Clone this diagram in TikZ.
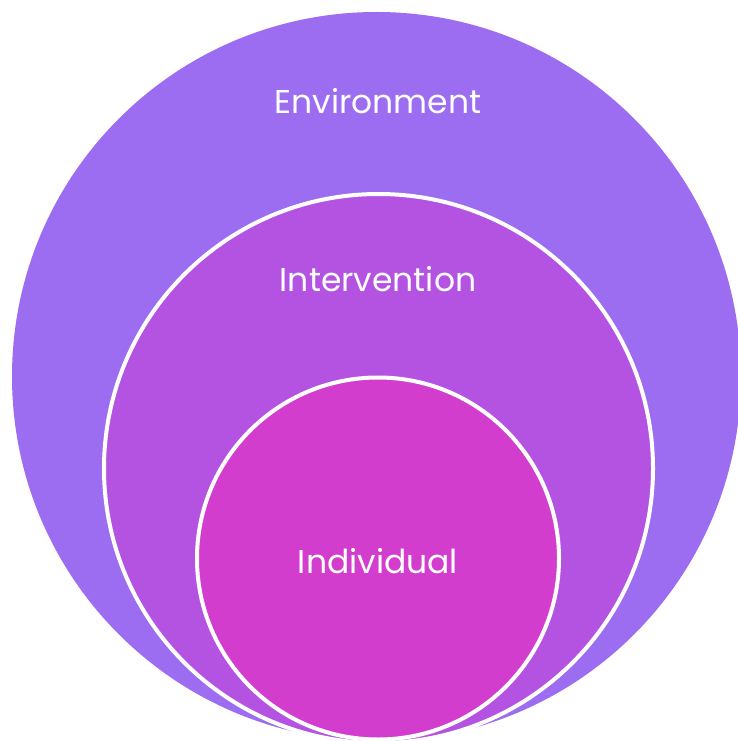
\documentclass[tikz,border=0pt]{standalone}
\usepackage{fontspec}
\setmainfont{Poppins}
\definecolor{envc}{HTML}{9C6CF1}
\definecolor{intc}{HTML}{B453E2}
\definecolor{indc}{HTML}{D33DCE}
\begin{document}
\begin{tikzpicture}[x=1pt,y=-1pt,
  ring/.style={circle,inner sep=0pt,outer sep=0pt,draw=white,line width=4pt},
  lbl/.style={text=white,font=\fontsize{33}{38}\selectfont}]
\useasboundingbox (0,0) rectangle (738,741);
\begin{scope}
\clip (0,0) rectangle (738,741);
\node[circle,inner sep=0pt,fill=envc,minimum size=729pt] (env) at (376.5,376.5) {};
\node[ring,fill=intc,minimum size=549pt] (int) at (378.5,468.5) {};
\node[ring,fill=indc,minimum size=362pt] (ind) at (378,558.5) {};
\end{scope}
\node[lbl] (envt) at (378,101) {Environment};
\node[lbl] (intt) at (378,279) {Intervention};
\node[lbl] (indt) at (378,561) {Individual};
\end{tikzpicture}
\end{document}
